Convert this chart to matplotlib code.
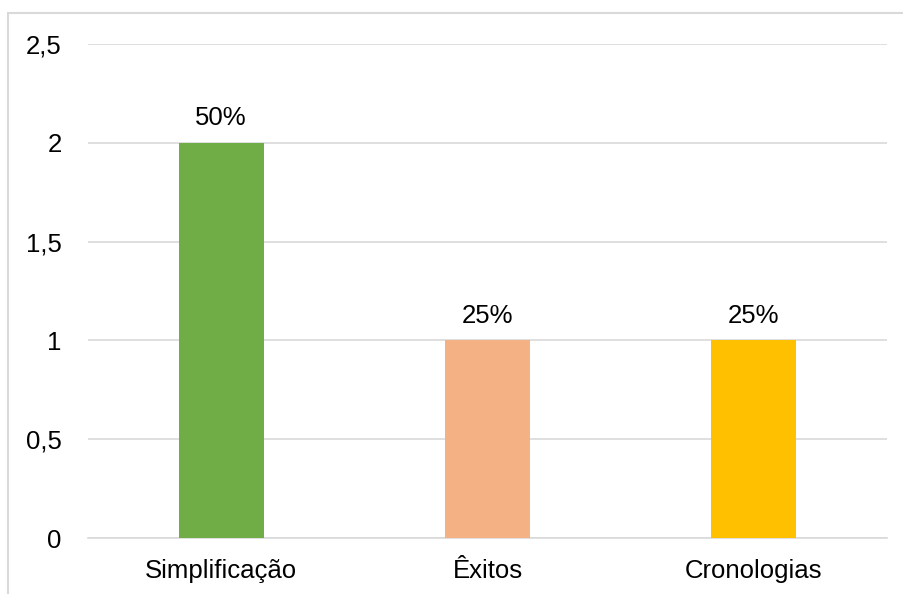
import matplotlib.pyplot as plt
from matplotlib.patches import Rectangle
from matplotlib.ticker import FuncFormatter

plt.rcParams['font.family'] = ['Liberation Sans', 'DejaVu Sans']

categorias = ['Simplificação', 'Êxitos', 'Cronologias']
valores = [2, 1, 1]
percentuais = ['50%', '25%', '25%']
cores = ['#70AD47', '#F4B183', '#FFC000']

fig = plt.figure(figsize=(9.04, 5.94), dpi=100)
ax = fig.add_axes([88 / 904, 1 - 538 / 594, (887 - 88) / 904, (538 - 44) / 594])

# moldura do gráfico
fig.patches.append(Rectangle((8 / 904, -0.1), 1.2, 1 - 13 / 594 + 0.1,
                             transform=fig.transFigure, fill=False,
                             edgecolor='#D9D9D9', linewidth=1.5))

x = range(len(categorias))
barras = ax.bar(x, valores, width=0.32, color=cores, zorder=3)
for b, p in zip(barras, percentuais):
    ax.text(b.get_x() + b.get_width() / 2, b.get_height() + 0.065, p,
            ha='center', va='bottom', fontsize=18.5)

ax.set_xlim(-0.5, 2.5)
ax.set_ylim(0, 2.5)
ax.set_yticks([0, 0.5, 1, 1.5, 2, 2.5])
ax.yaxis.set_major_formatter(FuncFormatter(lambda v, _: f'{v:g}'.replace('.', ',')))
ax.set_xticks(list(x))
ax.set_xticklabels(categorias)
ax.tick_params(axis='both', length=0, labelsize=18.5)
ax.tick_params(axis='x', pad=15)
ax.tick_params(axis='y', pad=19)
ax.grid(axis='y', color='#D9D9D9', linewidth=1.2, zorder=0)
for s in ['top', 'right', 'left']:
    ax.spines[s].set_visible(False)
ax.spines['bottom'].set_color('#D9D9D9')
ax.spines['bottom'].set_linewidth(1.2)

fig.savefig('out.png', dpi=100)
